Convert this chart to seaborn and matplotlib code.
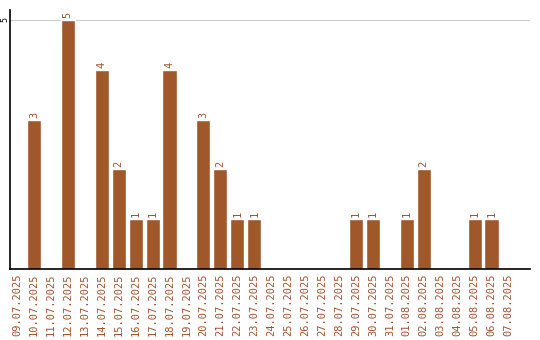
import matplotlib
matplotlib.use("Agg")
import matplotlib.pyplot as plt
import seaborn as sns
import pandas as pd

dates = ["09.07.2025", "10.07.2025", "11.07.2025", "12.07.2025", "13.07.2025",
         "14.07.2025", "15.07.2025", "16.07.2025", "17.07.2025", "18.07.2025",
         "19.07.2025", "20.07.2025", "21.07.2025", "22.07.2025", "23.07.2025",
         "24.07.2025", "25.07.2025", "26.07.2025", "27.07.2025", "28.07.2025",
         "29.07.2025", "30.07.2025", "31.07.2025", "01.08.2025", "02.08.2025",
         "03.08.2025", "04.08.2025", "05.08.2025", "06.08.2025", "07.08.2025"]
counts = [0, 3, 0, 5, 0, 4, 2, 1, 1, 4, 0, 3, 2, 1, 1,
          0, 0, 0, 0, 0, 1, 1, 0, 1, 2, 0, 0, 1, 1, 0]

df = pd.DataFrame({"date": dates, "count": counts})

bar_color = "#A0572A"
text_color = "#A0522D"

sns.set_style("white")
plt.rcParams['font.family'] = ['DejaVu Sans Mono', 'DejaVu Sans']

fig = plt.figure(figsize=(5.4, 3.4), dpi=100)
ax = fig.add_axes([10/540, 71/340, 520/540, 259/340])

sns.barplot(data=df, x="date", y="count", color=bar_color, width=0.83,
            saturation=1, ax=ax, order=dates)

ax.set_xlim(-0.41, 30.27)
ax.set_ylim(0, 5.2)
ax.set_yticks([5])
ax.set_yticklabels(["5"], rotation=90, va="center", ha="center", fontsize=6, color="black")
ax.yaxis.grid(True, color="#cccccc", linewidth=0.8)
ax.set_axisbelow(True)
ax.tick_params(axis="y", length=0, pad=4)
ax.tick_params(axis="x", length=0, pad=3)
ax.set_xticks(range(len(dates)))
ax.set_xticklabels(dates, rotation=90, fontsize=7.5, color=text_color)
ax.set_xlabel("")
ax.set_ylabel("")

for s in ["top", "right"]:
    ax.spines[s].set_visible(False)
for s in ["left", "bottom"]:
    ax.spines[s].set_visible(True)
    ax.spines[s].set_color("black")
    ax.spines[s].set_linewidth(1.2)

for i, v in enumerate(counts):
    if v > 0:
        ax.text(i, v + 0.04, str(v), rotation=90, ha="center", va="bottom",
                fontsize=7.5, color=text_color)

fig.savefig("out.png", dpi=100)
